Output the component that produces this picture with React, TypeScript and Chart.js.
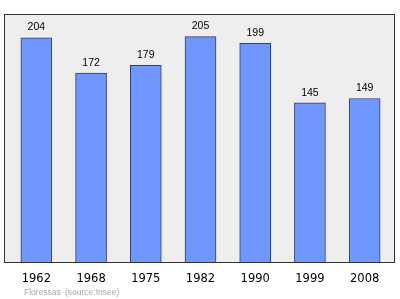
import React, { useEffect, useRef } from "react";
import { Chart, registerables } from "chart.js";

Chart.register(...registerables);

const categories = ["1962", "1968", "1975", "1982", "1990", "1999", "2008"];
const population = [204, 172, 179, 205, 199, 145, 149];
const placeName = "Floressas";
const sourceNote = "(source:Insee)";

const framePlugin = {
  id: "frame",
  beforeDraw(chart: any) {
    const { ctx, chartArea } = chart;
    ctx.save();
    ctx.fillStyle = "#eeeeee";
    ctx.fillRect(chartArea.left - 5, chartArea.top, chartArea.right - chartArea.left + 8, chartArea.bottom - chartArea.top);
    ctx.restore();
  },
  afterDatasetsDraw(chart: any) {
    const { ctx, chartArea } = chart;
    ctx.save();
    ctx.strokeStyle = "#333333";
    ctx.lineWidth = 1;
    ctx.strokeRect(chartArea.left - 5 + 0.5, chartArea.top + 0.5, chartArea.right - chartArea.left + 8 - 1, chartArea.bottom - chartArea.top - 1);
    const meta = chart.getDatasetMeta(0);
    ctx.fillStyle = "#000000";
    ctx.font = "10.5px 'Liberation Sans'";
    ctx.textAlign = "center";
    ctx.textBaseline = "bottom";
    meta.data.forEach((bar: any, i: number) => {
      ctx.fillText(String(population[i]), bar.x, bar.y - 5);
    });
    ctx.fillStyle = "#a8a8a8";
    ctx.font = "8.5px 'Liberation Sans'";
    ctx.textAlign = "left";
    ctx.textBaseline = "middle";
    ctx.fillText(placeName, 24, 293);
    ctx.fillText(sourceNote, 65, 293);
    ctx.restore();
  },
};

export default function App() {
  const ref = useRef<HTMLCanvasElement>(null);
  useEffect(() => {
    document.body.style.margin = "0";
    const chart = new Chart(ref.current!, {
      type: "bar",
      data: {
        labels: categories,
        datasets: [
          {
            data: population,
            backgroundColor: "#7096ff",
            borderColor: "#2c3c78",
            borderWidth: 1,
            barThickness: 31,
          },
        ],
      },
      options: {
        animation: false,
        responsive: false,
        maintainAspectRatio: false,
        layout: { padding: { left: 9, right: 8, top: 14, bottom: 0 } },
        plugins: { legend: { display: false }, tooltip: { enabled: false } },
        scales: {
          x: {
            grid: { display: false, drawTicks: false },
            border: { display: false },
            ticks: { color: "#000000", font: { family: "DejaVu Sans", size: 11.5 }, padding: 9 },
            afterFit: (scale: any) => {
              scale.height = 36;
            },
          },
          y: { display: false, min: 0, max: 225.5 },
        },
      },
      plugins: [framePlugin],
    });
    return () => chart.destroy();
  }, []);
  return (
    <div style={{ position: "absolute", left: 0, top: 0, width: 400, height: 299, background: "#ffffff" }}>
      <canvas ref={ref} width={400} height={299} style={{ width: 400, height: 299 }} />
    </div>
  );
}
